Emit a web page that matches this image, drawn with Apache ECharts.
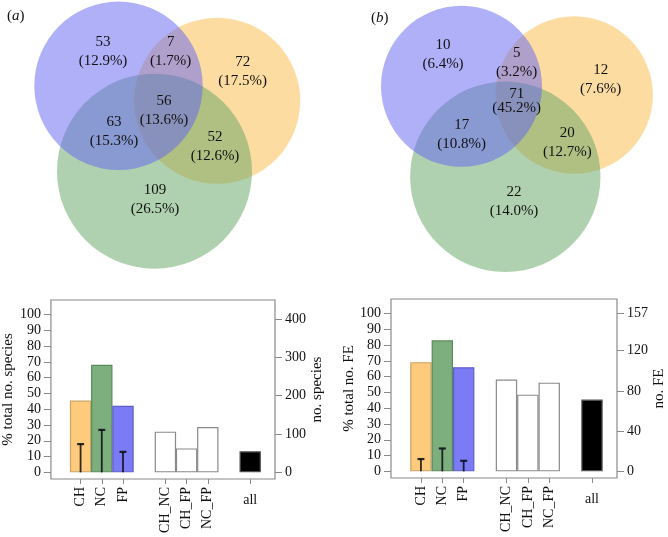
<!DOCTYPE html>
<html><head><meta charset="utf-8">
<script src="https://cdn.jsdelivr.net/npm/echarts@6/dist/echarts.min.js"></script>
<style>html,body{margin:0;padding:0;background:#fff}#c{width:668px;height:537px}</style>
</head><body><div id="c"></div>
<script>
// ---------- data ----------
const vennCountsA = [53, 7, 72, 56, 63, 52, 109];
const vennPctA    = ['12.9', '1.7', '17.5', '13.6', '15.3', '12.6', '26.5'];
const vennCountsB = [10, 5, 12, 71, 17, 20, 22];
const vennPctB    = ['6.4', '3.2', '7.6', '45.2', '10.8', '12.7', '14.0'];

const barCategories = ['CH', 'NC', 'FP', 'CH_NC', 'CH_FP', 'NC_FP', 'all'];
const barPctA = [45.5, 68.2, 42.2, 25.8, 15.2, 28.7, 13.4];
const errPctA = [17.9, 26.9, 13.0];
const barPctB = [69.2, 83.0, 66.0, 58.2, 48.6, 56.2, 45.5];
const errPctB = [7.8, 14.5, 6.7];

const totalSpecies = 412;
const totalFE = 157;
const leftTicks = [0, 10, 20, 30, 40, 50, 60, 70, 80, 90, 100];
const rightTicksA = [0, 100, 200, 300, 400];
const rightTicksB = [0, 40, 80, 120, 157];

// ---------- layout (not data) ----------
// venn geometry in local units (1 unit = 10 px of a 334x280 panel): [cx, cy, r]
const circlesA = [[21.72, 10.08, 8.3], [15.45, 17.12, 9.75], [11.85, 8.58, 8.42]]; // CH, NC, FP
const circlesB = [[24.02, 9.5, 7.87], [17.13, 17.68, 9.52], [12.75, 8.63, 8.05]];
const labelPosA = [[10.3, 5.12], [17.07, 5.15], [24.27, 7.13], [16.4, 11.05], [11.4, 13.12], [21.5, 14.7], [15.5, 19.97]];
const labelPosB = [[10.9, 5.45], [18.27, 6.22], [26.67, 7.93], [18.27, 10.13], [12.77, 13.45], [23.33, 14.25], [18.0, 20.12]];
const barSlots = [0, 1, 2, 4, 5, 6, 8];

const circleFill = ['rgba(251,185,70,0.5)', 'rgba(98,163,98,0.5)', 'rgba(98,98,244,0.5)'];
const barFill = ['#FDCB7B', '#7DAE7D', '#7B7BF6', '#fff', '#fff', '#fff', '#000'];
const barBorder = ['#c9a463', '#5b8a5b', '#5e5ec8', '#8a8a8a', '#8a8a8a', '#8a8a8a', '#555'];
const FONT = "'Liberation Serif','Times New Roman',serif";

const chart = echarts.init(document.getElementById('c'), null, {renderer: 'canvas'});

function circleSeries(circles, xi, yi) {
  return {
    type: 'custom', xAxisIndex: xi, yAxisIndex: yi, clip: false, silent: true,
    data: circles,
    renderItem: function (params, api) {
      const c = api.coord([api.value(0), api.value(1)]);
      const r = api.size([api.value(2), 0])[0];
      return {type: 'circle', shape: {cx: c[0], cy: c[1], r: r}, style: {fill: circleFill[params.dataIndex]}};
    }
  };
}
function vennLabelSeries(pos, counts, pcts, xi, yi) {
  const data = pos.map((p, i) => [p[0], p[1]]);
  return {
    type: 'custom', xAxisIndex: xi, yAxisIndex: yi, clip: false, silent: true, z: 5,
    data: data,
    renderItem: function (params, api) {
      const c = api.coord([api.value(0), api.value(1)]);
      const cnt = counts[params.dataIndex], pc = pcts[params.dataIndex];
      const tight = (cnt === 71);
      return {type: 'text', x: c[0], y: c[1], style: {
        text: cnt + '\n(' + pc + '%)', fill: '#111', font: '15px ' + FONT,
        align: 'center', verticalAlign: 'middle', lineHeight: tight ? 14 : 19
      }};
    }
  };
}
function barSeries(vals, xi, yi) {
  return {
    type: 'bar', xAxisIndex: xi, yAxisIndex: yi, barWidth: 21.4, silent: true,
    data: vals.map((v, i) => ({value: [barSlots[i], v], itemStyle: {color: barFill[i], borderColor: barBorder[i], borderWidth: 1.2}}))
  };
}
function errSeries(vals, xi, yi) {
  return {
    type: 'custom', xAxisIndex: xi, yAxisIndex: yi, z: 5, silent: true,
    data: vals.map((v, i) => [barSlots[i], v]),
    renderItem: function (params, api) {
      const b = api.coord([api.value(0), 0]);
      const t = api.coord([api.value(0), api.value(1)]);
      const st = {stroke: 'rgba(10,10,20,0.85)', lineWidth: 1.8};
      return {type: 'group', children: [
        {type: 'line', shape: {x1: b[0], y1: b[1], x2: t[0], y2: t[1]}, style: st},
        {type: 'line', shape: {x1: t[0] - 3.5, y1: t[1], x2: t[0] + 3.5, y2: t[1]}, style: {stroke: 'rgba(10,10,20,0.85)', lineWidth: 2.2}}
      ]};
    }
  };
}
const tickLine = {color: '#8a8a8a', width: 1};
const noLine = {show: false, onZero: false};
function hiddenAxis(gi, max, inverse) {
  return {type: 'value', gridIndex: gi, min: 0, max: max, inverse: !!inverse, show: false, axisLine: noLine};
}
const catName = v => barCategories[barSlots.indexOf(Math.round(v))] || '';
function xBarAxes(gi) {
  return [
    {type: 'value', gridIndex: gi, position: 'bottom', min: -1.4, max: 9.17,
     axisLine: noLine, splitLine: {show: false},
     axisTick: {show: true, length: 5, customValues: [0, 1, 2, 4, 5, 6], lineStyle: tickLine},
     axisLabel: {show: true, rotate: 90, margin: 8, customValues: [0, 1, 2, 4, 5, 6], color: '#111', fontSize: 14, fontFamily: FONT, formatter: catName}},
    {type: 'value', gridIndex: gi, position: 'bottom', min: -1.4, max: 9.17,
     axisLine: noLine, splitLine: {show: false},
     axisTick: {show: true, length: 5, customValues: [8], lineStyle: tickLine},
     axisLabel: {show: true, margin: 14, customValues: [8], color: '#111', fontSize: 14, fontFamily: FONT, formatter: catName}}
  ];
}
function yBarAxes(gi, total, rightTicks, leftName, rightName) {
  const lo = -4.2, hi = 109.2;
  return [
    {type: 'value', gridIndex: gi, position: 'left', min: lo, max: hi,
     axisLine: noLine, splitLine: {show: false},
     axisTick: {show: true, length: 7, customValues: leftTicks, lineStyle: tickLine},
     axisLabel: {show: true, margin: 10, customValues: leftTicks, color: '#111', fontSize: 14, fontFamily: FONT},
     name: leftName, nameLocation: 'middle', nameRotate: 90, nameGap: 31,
     nameTextStyle: {color: '#111', fontSize: 15, fontFamily: FONT}},
    {type: 'value', gridIndex: gi, position: 'right', min: lo * total / 100, max: hi * total / 100,
     axisLine: noLine, splitLine: {show: false},
     axisTick: {show: true, length: 7, customValues: rightTicks, lineStyle: tickLine},
     axisLabel: {show: true, margin: 10, customValues: rightTicks, color: '#111', fontSize: 14, fontFamily: FONT},
     name: rightName, nameLocation: 'middle', nameRotate: 90, nameGap: 35,
     nameTextStyle: {color: '#111', fontSize: 15, fontFamily: FONT}}
  ];
}
const gridBox = {show: true, borderColor: '#8a8a8a', borderWidth: 1.2, backgroundColor: 'transparent'};

const option = {
  animation: false,
  backgroundColor: '#fff',
  title: [
    {text: '({i|a})', left: 2, top: 4, textStyle: {fontSize: 15, fontWeight: 'normal', color: '#111', fontFamily: FONT, rich: {i: {fontStyle: 'italic', fontSize: 15, fontFamily: FONT, color: '#111'}}}},
    {text: '({i|b})', left: 366, top: 6, textStyle: {fontSize: 15, fontWeight: 'normal', color: '#111', fontFamily: FONT, rich: {i: {fontStyle: 'italic', fontSize: 15, fontFamily: FONT, color: '#111'}}}}
  ],
  grid: [
    {left: 0, top: 0, width: 334, height: 280, show: false},
    {left: 334, top: 0, width: 334, height: 280, show: false},
    Object.assign({left: 49, top: 300, width: 226, height: 179}, gridBox),
    Object.assign({left: 391, top: 299, width: 226, height: 179}, gridBox)
  ],
  xAxis: [hiddenAxis(0, 33.4), hiddenAxis(1, 33.4)].concat(xBarAxes(2), xBarAxes(3)),
  yAxis: [hiddenAxis(0, 28, true), hiddenAxis(1, 28, true)].concat(
    yBarAxes(2, totalSpecies, rightTicksA, '% total no. species', 'no. species'),
    yBarAxes(3, totalFE, rightTicksB, '% total no. FE', 'no. FE')),
  series: [
    circleSeries(circlesA, 0, 0),
    circleSeries(circlesB, 1, 1),
    vennLabelSeries(labelPosA, vennCountsA, vennPctA, 0, 0),
    vennLabelSeries(labelPosB, vennCountsB, vennPctB, 1, 1),
    barSeries(barPctA, 2, 2),
    errSeries(errPctA, 2, 2),
    barSeries(barPctB, 4, 4),
    errSeries(errPctB, 4, 4)
  ]
};
chart.setOption(option);
</script>
</body></html>
